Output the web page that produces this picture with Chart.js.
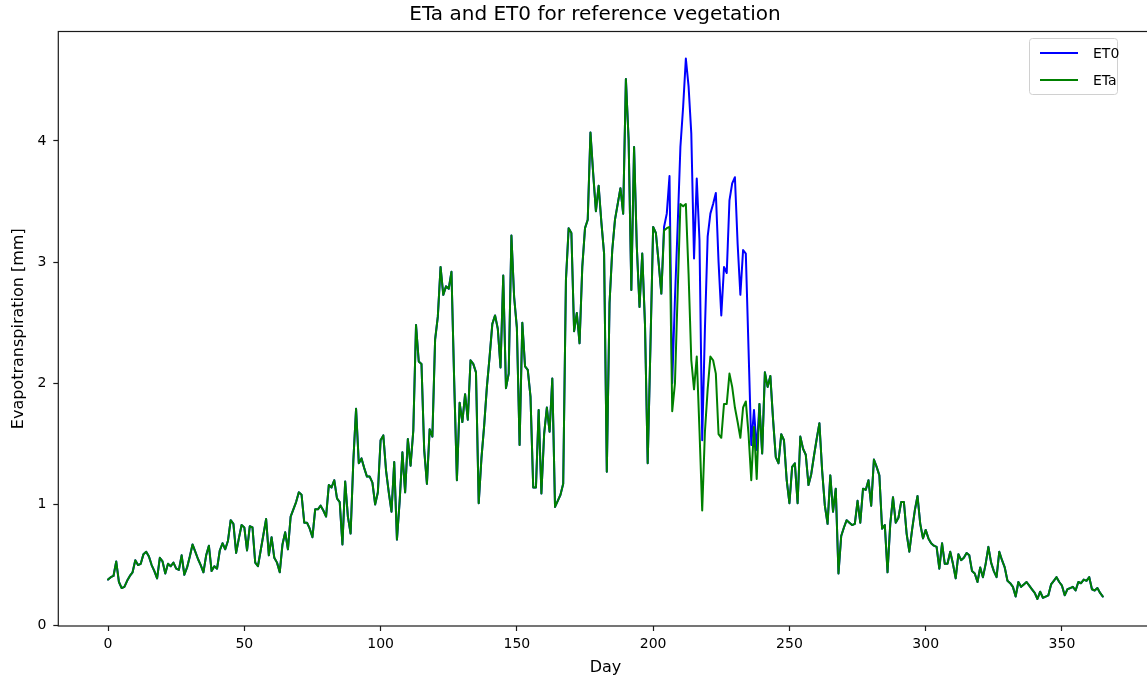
<!DOCTYPE html>
<html>
<head>
<meta charset="utf-8">
<script src="https://cdn.jsdelivr.net/npm/chart.js@4"></script>
<style>
  html, body { margin: 0; padding: 0; background: #fff; overflow: hidden; }
  canvas { display: block; }
</style>
</head>
<body>
<canvas id="et" width="1160" height="680"></canvas>
<script>
// daily actual evapotranspiration [mm], day 0..365
const eta = [
  0.38, 0.40, 0.41, 0.53, 0.36, 0.31, 0.32, 0.37, 0.41, 0.44,
  0.54, 0.50, 0.51, 0.59, 0.61, 0.57, 0.50, 0.45, 0.39, 0.56,
  0.53, 0.43, 0.51, 0.49, 0.52, 0.47, 0.46, 0.58, 0.42, 0.48,
  0.57, 0.67, 0.61, 0.55, 0.50, 0.44, 0.58, 0.66, 0.45, 0.49,
  0.47, 0.62, 0.68, 0.63, 0.70, 0.87, 0.84, 0.60, 0.72, 0.83,
  0.81, 0.62, 0.82, 0.81, 0.52, 0.49, 0.62, 0.75, 0.88, 0.58,
  0.73, 0.56, 0.52, 0.44, 0.67, 0.77, 0.63, 0.90, 0.96, 1.02,
  1.10, 1.08, 0.85, 0.85, 0.80, 0.73, 0.96, 0.96, 0.99, 0.95,
  0.90, 1.16, 1.14, 1.20, 1.05, 1.02, 0.67, 1.19, 0.90, 0.76,
  1.36, 1.79, 1.34, 1.38, 1.30, 1.23, 1.23, 1.18, 1.00, 1.10,
  1.53, 1.57, 1.28, 1.10, 0.94, 1.35, 0.71, 1.03, 1.43, 1.10,
  1.54, 1.32, 1.61, 2.48, 2.18, 2.16, 1.45, 1.17, 1.62, 1.56,
  2.36, 2.55, 2.96, 2.73, 2.80, 2.78, 2.92, 2.02, 1.20, 1.84,
  1.68, 1.91, 1.70, 2.19, 2.16, 2.09, 1.01, 1.38, 1.65, 1.97,
  2.22, 2.49, 2.56, 2.45, 2.13, 2.89, 1.96, 2.08, 3.22, 2.71,
  2.46, 1.49, 2.50, 2.14, 2.11, 1.89, 1.14, 1.14, 1.78, 1.09,
  1.58, 1.80, 1.60, 2.04, 0.98, 1.03, 1.08, 1.17, 2.85, 3.28,
  3.24, 2.43, 2.58, 2.33, 2.96, 3.28, 3.35, 4.07, 3.73, 3.42,
  3.63, 3.33, 3.07, 1.27, 2.66, 3.10, 3.35, 3.48, 3.61, 3.40,
  4.51, 4.01, 2.77, 3.95, 3.13, 2.63, 3.07, 2.49, 1.34, 2.30,
  3.29, 3.24, 3.00, 2.74, 3.26, 3.28, 3.29, 1.77, 2.00, 2.75,
  3.48, 3.46, 3.48, 2.90, 2.19, 1.95, 2.22, 1.61, 0.95, 1.60,
  1.95, 2.22, 2.19, 2.08, 1.58, 1.55, 1.83, 1.83, 2.08, 1.97,
  1.80, 1.68, 1.55, 1.80, 1.85, 1.58, 1.20, 1.64, 1.21, 1.83,
  1.42, 2.09, 1.97, 2.06, 1.70, 1.39, 1.34, 1.58, 1.53, 1.20,
  1.01, 1.31, 1.34, 1.01, 1.56, 1.46, 1.41, 1.16, 1.25, 1.40,
  1.54, 1.67, 1.28, 0.99, 0.84, 1.24, 0.94, 1.13, 0.43, 0.74,
  0.81, 0.87, 0.85, 0.83, 0.84, 1.03, 0.85, 1.13, 1.12, 1.20,
  0.99, 1.37, 1.31, 1.24, 0.80, 0.83, 0.44, 0.84, 1.06, 0.85,
  0.89, 1.02, 1.02, 0.76, 0.61, 0.79, 0.95, 1.07, 0.84, 0.72,
  0.79, 0.72, 0.68, 0.66, 0.65, 0.47, 0.68, 0.51, 0.51, 0.61,
  0.51, 0.39, 0.59, 0.54, 0.56, 0.60, 0.58, 0.45, 0.43, 0.36,
  0.48, 0.40, 0.51, 0.65, 0.52, 0.45, 0.40, 0.61, 0.54, 0.48,
  0.37, 0.35, 0.32, 0.24, 0.36, 0.32, 0.34, 0.36, 0.33, 0.30,
  0.27, 0.22, 0.28, 0.23, 0.24, 0.25, 0.34, 0.37, 0.40, 0.36,
  0.33, 0.25, 0.30, 0.31, 0.32, 0.29, 0.36, 0.35, 0.38, 0.37,
  0.40, 0.30, 0.29, 0.31, 0.27, 0.24
];

// daily reference evapotranspiration [mm], day 0..365
const et0 = [
  0.38, 0.40, 0.41, 0.53, 0.36, 0.31, 0.32, 0.37, 0.41, 0.44,
  0.54, 0.50, 0.51, 0.59, 0.61, 0.57, 0.50, 0.45, 0.39, 0.56,
  0.53, 0.43, 0.51, 0.49, 0.52, 0.47, 0.46, 0.58, 0.42, 0.48,
  0.57, 0.67, 0.61, 0.55, 0.50, 0.44, 0.58, 0.66, 0.45, 0.49,
  0.47, 0.62, 0.68, 0.63, 0.70, 0.87, 0.84, 0.60, 0.72, 0.83,
  0.81, 0.62, 0.82, 0.81, 0.52, 0.49, 0.62, 0.75, 0.88, 0.58,
  0.73, 0.56, 0.52, 0.44, 0.67, 0.77, 0.63, 0.90, 0.96, 1.02,
  1.10, 1.08, 0.85, 0.85, 0.80, 0.73, 0.96, 0.96, 0.99, 0.95,
  0.90, 1.16, 1.14, 1.20, 1.05, 1.02, 0.67, 1.19, 0.90, 0.76,
  1.36, 1.79, 1.34, 1.38, 1.30, 1.23, 1.23, 1.18, 1.00, 1.10,
  1.53, 1.57, 1.28, 1.10, 0.94, 1.35, 0.71, 1.03, 1.43, 1.10,
  1.54, 1.32, 1.61, 2.48, 2.18, 2.16, 1.45, 1.17, 1.62, 1.56,
  2.36, 2.55, 2.96, 2.73, 2.80, 2.78, 2.92, 2.02, 1.20, 1.84,
  1.68, 1.91, 1.70, 2.19, 2.16, 2.09, 1.01, 1.38, 1.65, 1.97,
  2.22, 2.49, 2.56, 2.45, 2.13, 2.89, 1.96, 2.08, 3.22, 2.71,
  2.46, 1.49, 2.50, 2.14, 2.11, 1.89, 1.14, 1.14, 1.78, 1.09,
  1.58, 1.80, 1.60, 2.04, 0.98, 1.03, 1.08, 1.17, 2.85, 3.28,
  3.24, 2.43, 2.58, 2.33, 2.96, 3.28, 3.35, 4.07, 3.73, 3.42,
  3.63, 3.33, 3.07, 1.27, 2.66, 3.10, 3.35, 3.48, 3.61, 3.40,
  4.51, 4.01, 2.77, 3.95, 3.13, 2.63, 3.07, 2.49, 1.34, 2.30,
  3.29, 3.24, 3.00, 2.74, 3.29, 3.40, 3.71, 2.00, 2.70, 3.30,
  3.95, 4.28, 4.68, 4.45, 4.06, 3.03, 3.69, 3.18, 1.53, 2.45,
  3.21, 3.40, 3.48, 3.57, 3.00, 2.56, 2.96, 2.91, 3.51, 3.65,
  3.70, 3.15, 2.73, 3.10, 3.07, 2.28, 1.49, 1.78, 1.45, 1.83,
  1.42, 2.09, 1.97, 2.06, 1.70, 1.39, 1.34, 1.58, 1.53, 1.20,
  1.01, 1.31, 1.34, 1.01, 1.56, 1.46, 1.41, 1.16, 1.25, 1.40,
  1.54, 1.67, 1.28, 0.99, 0.84, 1.24, 0.94, 1.13, 0.43, 0.74,
  0.81, 0.87, 0.85, 0.83, 0.84, 1.03, 0.85, 1.13, 1.12, 1.20,
  0.99, 1.37, 1.31, 1.24, 0.80, 0.83, 0.44, 0.84, 1.06, 0.85,
  0.89, 1.02, 1.02, 0.76, 0.61, 0.79, 0.95, 1.07, 0.84, 0.72,
  0.79, 0.72, 0.68, 0.66, 0.65, 0.47, 0.68, 0.51, 0.51, 0.61,
  0.51, 0.39, 0.59, 0.54, 0.56, 0.60, 0.58, 0.45, 0.43, 0.36,
  0.48, 0.40, 0.51, 0.65, 0.52, 0.45, 0.40, 0.61, 0.54, 0.48,
  0.37, 0.35, 0.32, 0.24, 0.36, 0.32, 0.34, 0.36, 0.33, 0.30,
  0.27, 0.22, 0.28, 0.23, 0.24, 0.25, 0.34, 0.37, 0.40, 0.36,
  0.33, 0.25, 0.30, 0.31, 0.32, 0.29, 0.36, 0.35, 0.38, 0.37,
  0.40, 0.30, 0.29, 0.31, 0.27, 0.24
];

const xTicks = [0, 50, 100, 150, 200, 250, 300, 350];
const yTicks = [0, 1, 2, 3, 4];

const titleText = 'ETa and ET0 for reference vegetation';
const FONT = '"DejaVu Sans", sans-serif';
const INK = '#1a1a1a';

const toPoints = arr => arr.map((v, day) => ({ x: day, y: v }));

// axes frame, title and the boxed legend in the upper right corner
const decorations = {
  id: 'decorations',
  afterDraw(chart) {
    const { ctx, chartArea: a } = chart;
    ctx.save();
    ctx.strokeStyle = INK;
    ctx.lineWidth = 1.2;
    ctx.strokeRect(a.left, a.top, a.right - a.left, a.bottom - a.top);

    ctx.fillStyle = '#000';
    ctx.font = '20px ' + FONT;
    ctx.textAlign = 'center';
    ctx.textBaseline = 'middle';
    ctx.fillText(titleText, 595, 15);

    const bx = 1029.5, by = 38.5, bw = 88, bh = 56;
    ctx.beginPath();
    ctx.roundRect(bx, by, bw, bh, 3);
    ctx.fillStyle = 'rgba(255,255,255,0.8)';
    ctx.fill();
    ctx.strokeStyle = '#d0d0d0';
    ctx.lineWidth = 1;
    ctx.stroke();

    ctx.font = '14px ' + FONT;
    ctx.textAlign = 'left';
    chart.data.datasets.forEach((ds, i) => {
      const y = 53 + i * 27;
      ctx.beginPath();
      ctx.moveTo(1040, y);
      ctx.lineTo(1078, y);
      ctx.strokeStyle = ds.borderColor;
      ctx.lineWidth = 2;
      ctx.stroke();
      ctx.fillStyle = '#000';
      ctx.fillText(ds.label, 1093, y + 1);
    });
    ctx.restore();
  }
};

new Chart(document.getElementById('et'), {
  type: 'line',
  data: {
    datasets: [
      { label: 'ET0', data: toPoints(et0), borderColor: '#0000ff', order: 1 },
      { label: 'ETa', data: toPoints(eta), borderColor: '#008000', order: 0 }
    ]
  },
  options: {
    responsive: false,
    animation: false,
    devicePixelRatio: 1,
    layout: { padding: { top: 31.5, right: 7.4, left: 0, bottom: 0 } },
    elements: {
      line: { borderWidth: 2, tension: 0, borderJoinStyle: 'round', borderCapStyle: 'round' },
      point: { radius: 0, hoverRadius: 0 }
    },
    plugins: {
      legend: { display: false },
      title: { display: false },
      tooltip: { enabled: false }
    },
    scales: {
      x: {
        type: 'linear',
        min: -18.25,
        max: 383.25,
        afterBuildTicks: s => { s.ticks = xTicks.map(v => ({ value: v })); },
        afterFit: s => { s.height = 54; },
        border: { display: false },
        grid: { drawOnChartArea: false, tickLength: 5, tickColor: INK, tickWidth: 1.2 },
        ticks: { color: '#000', font: { family: FONT, size: 14 }, padding: 5, maxRotation: 0 },
        title: { display: true, text: 'Day', color: '#000', font: { family: FONT, size: 16 }, padding: { top: 0, bottom: 3 } }
      },
      y: {
        type: 'linear',
        min: -0.003,
        max: 4.903,
        afterBuildTicks: s => { s.ticks = yTicks.map(v => ({ value: v })); },
        afterFit: s => { s.width = 58.3; },
        border: { display: false },
        grid: { drawOnChartArea: false, tickLength: 5, tickColor: INK, tickWidth: 1.2 },
        ticks: { color: '#000', font: { family: FONT, size: 14 }, padding: 7 },
        title: { display: true, text: 'Evapotranspiration [mm]', color: '#000', font: { family: FONT, size: 16 }, padding: { top: 9, bottom: 0 } }
      }
    }
  },
  plugins: [decorations]
});
</script>
</body>
</html>
